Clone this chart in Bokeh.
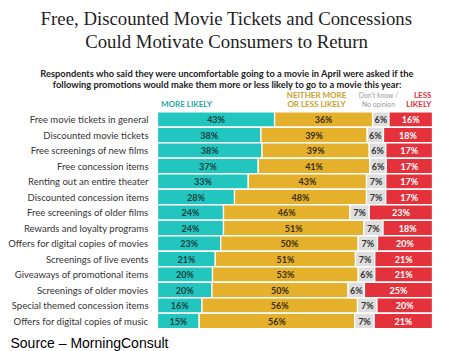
import numpy as np
from bokeh.plotting import figure
from bokeh.models import Range1d, ColumnDataSource
from bokeh.core.properties import value
from bokeh.embed import file_html
from bokeh.resources import INLINE

categories = [
    "Free movie tickets in general", "Discounted movie tickets",
    "Free screenings of new films", "Free concession items",
    "Renting out an entire theater", "Discounted concession items",
    "Free screenings of older films", "Rewards and loyalty programs",
    "Offers for digital copies of movies", "Screenings of live events",
    "Giveaways of promotional items", "Screenings of older movies",
    "Special themed concession items", "Offers for digital copies of music",
]
more_likely = [43, 38, 38, 37, 33, 28, 24, 24, 23, 21, 20, 20, 16, 15]
neither = [36, 39, 39, 41, 43, 48, 46, 51, 50, 51, 53, 50, 56, 56]
dont_know = [6, 6, 6, 6, 7, 7, 7, 7, 7, 7, 6, 6, 7, 7]
less_likely = [16, 18, 17, 17, 17, 17, 23, 18, 20, 21, 21, 25, 20, 21]

series_names = ["more", "neither", "dk", "less"]
series_colors = ["#22C6BF", "#E5B12C", "#DEDEDE", "#E3323C"]
label_colors = ["#163F3D", "#3A2E0E", "#333333", "#FFFFFF"]

# pixel -> data helpers (frame covers the whole canvas)
X0, XS = 157.0, 2.75   # px of 0 %, px per %
Y0, YS = 119.0, 15.5   # px of first row centre, px per row
def xd(px): return (px - X0) / XS
def yd(px): return (px - Y0) / YS

p = figure(width=450, height=351, output_backend="svg", toolbar_location=None,
           x_range=Range1d(xd(0), xd(450)), y_range=Range1d(yd(351), yd(0)),
           min_border=0)
p.axis.visible = False
p.grid.visible = False
p.outline_line_color = None
p.background_fill_color = "white"
p.border_fill_color = "white"

vals = np.array([more_likely, neither, dont_know, less_likely], dtype=float)
totals = vals.sum(axis=0)
norm = vals / totals * 100.0
rights = np.cumsum(norm, axis=0)
lefts = rights - norm
ys = np.arange(len(categories))

for k in range(4):
    src = ColumnDataSource(dict(y=ys, left=lefts[k], right=rights[k],
                                mid=(lefts[k] + rights[k]) / 2,
                                txt=[f"{int(v)}%" for v in vals[k]]))
    p.hbar(y="y", left="left", right="right", height=1.0, source=src,
           fill_color=series_colors[k], line_color="white", line_width=1.3)
    p.text(x="mid", y="y", text="txt", source=src, text_align="center",
           text_baseline="middle", text_font=value("Lato"), text_font_style="bold",
           text_font_size="9px", text_color=label_colors[k])

p.text(x=[xd(148)] * len(categories), y=ys, text=categories, text_align="right",
       text_baseline="middle", text_font=value("Lato"), text_font_size="9.5px",
       text_color="#333333")

def t(px, py, s, size, color, font="Lato", style="normal", align="center"):
    p.text(x=[xd(px)], y=[yd(py)], text=[s], text_align=align, text_baseline="middle",
           text_font=value(font), text_font_size=size, text_font_style=style,
           text_color=color)

t(226, 18, "Free, Discounted Movie Tickets and Concessions", "18.8px", "#1E1E1E", font="Liberation Serif")
t(226, 41, "Could Motivate Consumers to Return", "18.8px", "#1E1E1E", font="Liberation Serif")
t(227, 73, "Respondents who said they were uncomfortable going to a movie in April were asked if the",
  "9.3px", "#222222", style="bold")
t(227, 83.5, "following promotions would make them more or less likely to go to a movie this year:",
  "9.3px", "#222222", style="bold")
t(186, 103, "MORE LIKELY", "8px", "#1FA7A1", style="bold")
t(316, 94, "NEITHER MORE", "8px", "#C9A02A", style="bold")
t(316, 103, "OR LESS LIKELY", "8px", "#C9A02A", style="bold")
t(378, 94, "Don't know /", "6.8px", "#9A9A9A")
t(378, 103, "No opinion", "6.8px", "#9A9A9A")
t(431, 94, "LESS", "8px", "#E0303A", style="bold", align="right")
t(431, 103, "LIKELY", "8px", "#E0303A", style="bold", align="right")
t(10, 342, "Source \u2013 MorningConsult", "14px", "#000000", font="Liberation Sans", align="left")

open("out.html", "w").write(file_html(p, INLINE))
